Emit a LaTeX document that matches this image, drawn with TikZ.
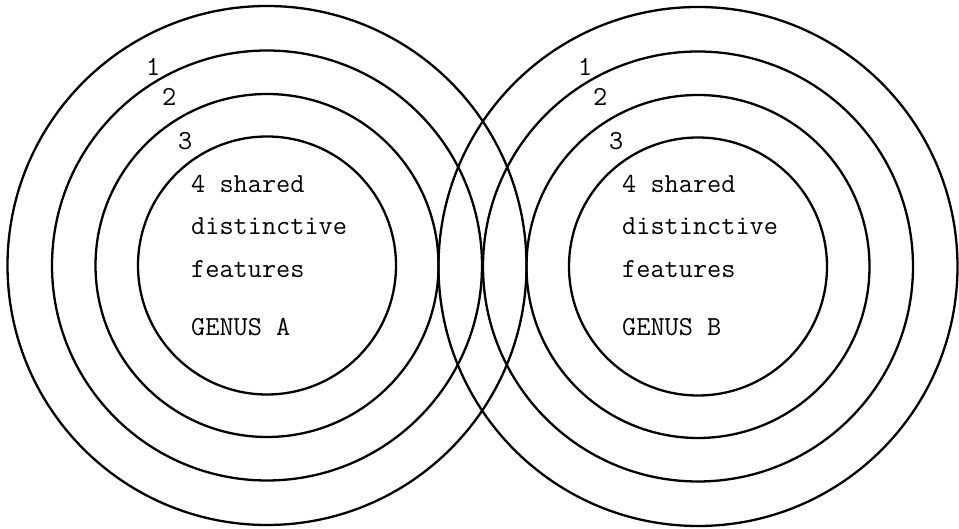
\documentclass[tikz,border=0pt]{standalone}
\begin{document}
\begin{tikzpicture}[x=1pt,y=1pt,
  ring/.style={draw=black,line width=2.3pt},
  lbl/.style={anchor=base west,inner sep=0pt,font=\ttfamily\fontsize{27.5}{27.5}\selectfont}]
\useasboundingbox (0,0) rectangle (959,529);
\coordinate (A) at (267,263.5);
\coordinate (B) at (698,262.5);
\foreach \r in {259.5,215,171.5,129}{
  \draw[ring] (A) circle (\r);
  \draw[ring] (B) circle (\r);
}
% labels left
\node[lbl] (a1) at (146,453) {1};
\node[lbl] (a2) at (162,423) {2};
\node[lbl] (a3) at (178,379) {3};
\node[lbl] (a4) at (191,336) {4 shared};
\node[lbl] (a5) at (191,294) {distinctive};
\node[lbl] (a6) at (191,251) {features};
\node[lbl] (a7) at (191,193) {GENUS A};
% labels right
\node[lbl] (b1) at (578,453) {1};
\node[lbl] (b2) at (593,423) {2};
\node[lbl] (b3) at (609,379) {3};
\node[lbl] (b4) at (622,336) {4 shared};
\node[lbl] (b5) at (622,294) {distinctive};
\node[lbl] (b6) at (622,251) {features};
\node[lbl] (b7) at (622,193) {GENUS B};
\end{tikzpicture}
\end{document}
